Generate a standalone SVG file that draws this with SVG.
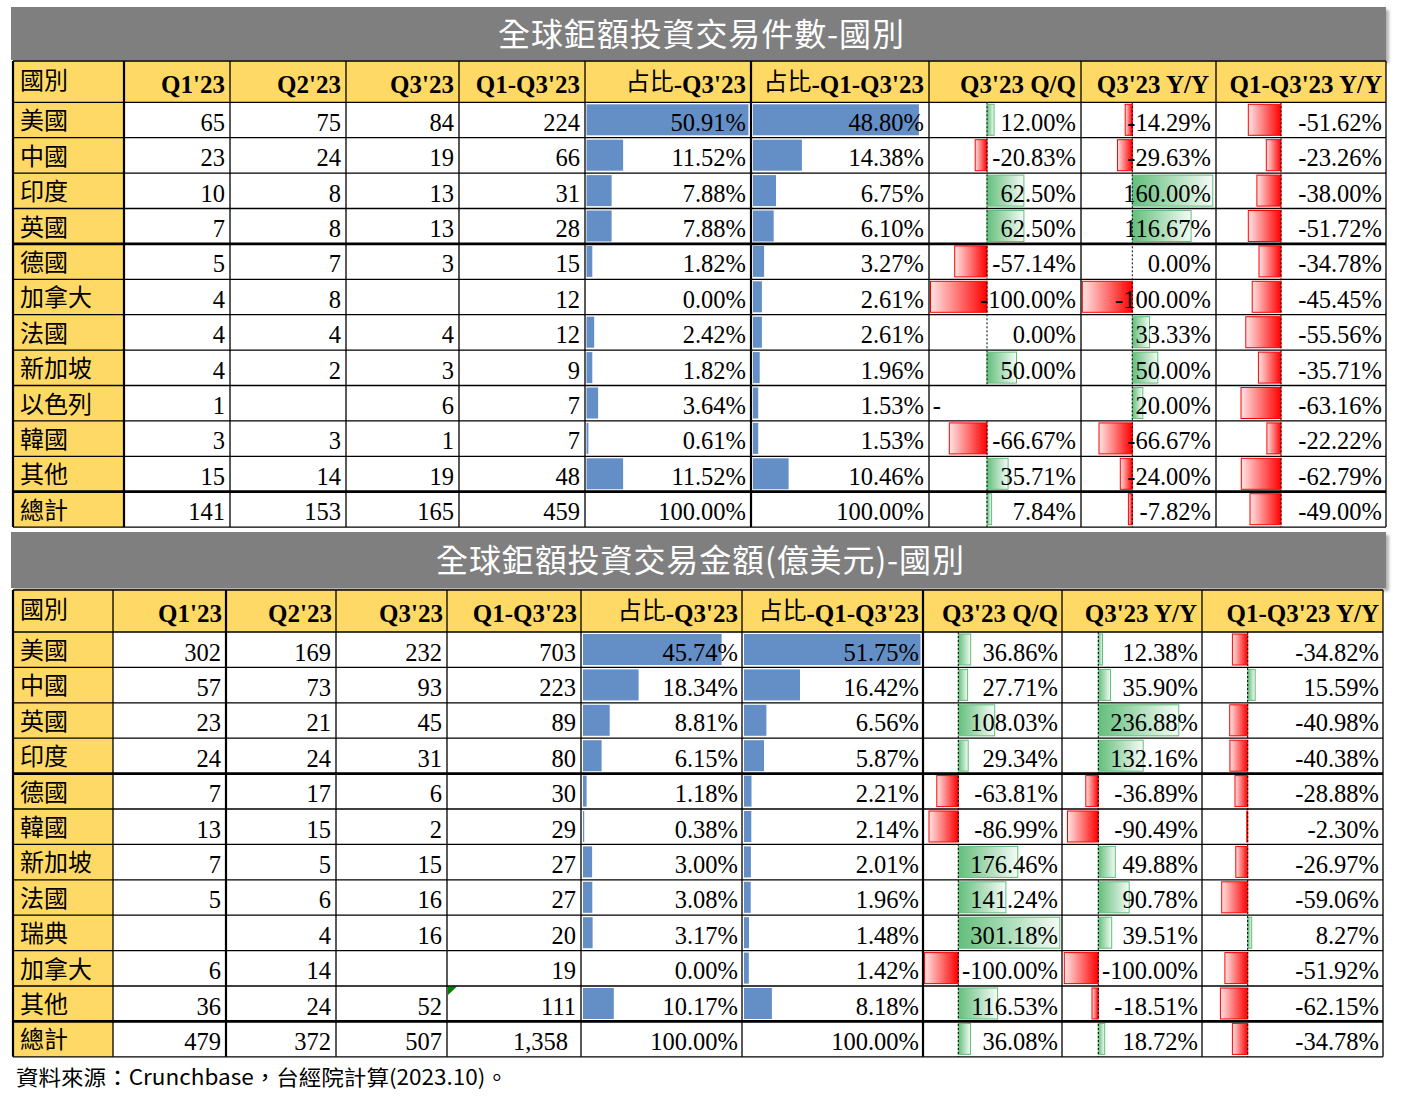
<svg xmlns="http://www.w3.org/2000/svg" width="1402" height="1104" viewBox="0 0 1402 1104">
<style>
.ttl{font-family:"Noto Sans CJK TC","Noto Sans CJK SC",sans-serif;font-size:32px;fill:#fff;text-anchor:middle}
.h{font-family:"Liberation Serif","Noto Sans CJK TC",serif;font-size:25px;font-weight:bold;text-anchor:end;fill:#000}
.h tspan.k{font-family:"Noto Sans CJK TC","Noto Sans CJK SC",sans-serif;font-weight:normal;font-size:24px}
.c{font-family:"Noto Sans CJK TC","Noto Sans CJK SC",sans-serif;font-size:24px;fill:#000}
.n{font-family:"Liberation Serif",serif;font-size:24.5px;text-anchor:end;fill:#000}
.b{fill:#638EC6}
.p{fill:url(#gG);stroke:#63BE7B;stroke-width:1}
.m{fill:url(#gR);stroke:#FF0000;stroke-width:1}
.ax{stroke:#000;stroke-width:1;stroke-dasharray:2 2;fill:none}
.g{stroke:#000;stroke-width:1.3;fill:none}
.gt{stroke:#000;stroke-width:2.8;fill:none}
.gold{fill:#FFD966}
.src{font-family:"Noto Sans CJK TC","Noto Sans CJK SC",sans-serif;font-size:21px;fill:#000}
</style>
<defs>
<linearGradient id="gG" x1="0" y1="0" x2="1" y2="0"><stop offset="0" stop-color="#63BE7B"/><stop offset="1" stop-color="#F4FBF6"/></linearGradient>
<linearGradient id="gR" x1="0" y1="0" x2="1" y2="0"><stop offset="0" stop-color="#FFE4E4"/><stop offset="1" stop-color="#FF0000"/></linearGradient>
<filter id="sh" x="-2%" y="-20%" width="104%" height="140%"><feDropShadow dx="3" dy="3" stdDeviation="1.5" flood-color="#000" flood-opacity="0.3"/></filter>
</defs>
<rect x="0" y="0" width="1402" height="1104" fill="#fff"/>

<!-- ===== TABLE 1 ===== -->
<g id="t1-title">
<rect x="11" y="7" width="1375" height="53" fill="#7F7F7F" filter="url(#sh)"/>
<text class="ttl" x="701" y="46" textLength="406" lengthAdjust="spacing">全球鉅額投資交易件數-國別</text>
</g>
<g id="t1-fills">
<rect class="gold" x="13" y="61" width="1373" height="41.3"/>
<rect class="gold" x="13" y="102.3" width="111" height="424.8"/>
</g>
<g id="t1-header">
<text class="c" x="20" y="89">國別</text>
<text class="h" x="225" y="93">Q1'23</text>
<text class="h" x="341" y="93">Q2'23</text>
<text class="h" x="454" y="93">Q3'23</text>
<text class="h" x="580" y="93">Q1-Q3'23</text>
<text class="h" x="746" y="93"><tspan class="k" dy="-3">占比</tspan><tspan dy="3">-Q3'23</tspan></text>
<text class="h" x="924" y="93"><tspan class="k" dy="-3">占比</tspan><tspan dy="3">-Q1-Q3'23</tspan></text>
<text class="h" x="1076" y="93">Q3'23 Q/Q</text>
<text class="h" x="1209" y="93">Q3'23 Y/Y</text>
<text class="h" x="1382" y="93">Q1-Q3'23 Y/Y</text>
</g>

<g id="t1-r0" transform="translate(0,102.3)">
<rect class="b" x="586.5" y="2" width="161.9" height="31"/><rect class="b" x="753" y="2" width="165.9" height="31"/>
<rect class="p" x="987" y="2" width="7.1" height="31"/><rect class="m" x="1125.2" y="2" width="7.1" height="31"/><rect class="m" x="1248.3" y="2" width="32.7" height="31"/>
<text class="c" x="20" y="27">美國</text>
<text class="n" x="225" y="28.5">65</text><text class="n" x="341" y="28.5">75</text><text class="n" x="454" y="28.5">84</text><text class="n" x="580" y="28.5">224</text>
<text class="n" x="746" y="28.5">50.91%</text><text class="n" x="924" y="28.5">48.80%</text><text class="n" x="1076" y="28.5">12.00%</text><text class="n" x="1211" y="28.5">-14.29%</text><text class="n" x="1382" y="28.5">-51.62%</text>
</g>
<g id="t1-r1" transform="translate(0,137.7)">
<rect class="b" x="586.5" y="2" width="36.6" height="31"/><rect class="b" x="753" y="2" width="48.9" height="31"/>
<rect class="m" x="975.2" y="2" width="11.8" height="31"/><rect class="m" x="1117.5" y="2" width="14.8" height="31"/><rect class="m" x="1266.3" y="2" width="14.7" height="31"/>
<text class="c" x="20" y="27">中國</text>
<text class="n" x="225" y="28.5">23</text><text class="n" x="341" y="28.5">24</text><text class="n" x="454" y="28.5">19</text><text class="n" x="580" y="28.5">66</text>
<text class="n" x="746" y="28.5">11.52%</text><text class="n" x="924" y="28.5">14.38%</text><text class="n" x="1076" y="28.5">-20.83%</text><text class="n" x="1211" y="28.5">-29.63%</text><text class="n" x="1382" y="28.5">-23.26%</text>
</g>
<g id="t1-r2" transform="translate(0,173.1)">
<rect class="b" x="586.5" y="2" width="25.1" height="31"/><rect class="b" x="753" y="2" width="23" height="31"/>
<rect class="p" x="987" y="2" width="36.9" height="31"/><rect class="p" x="1132.3" y="2" width="80.5" height="31"/><rect class="m" x="1256.9" y="2" width="24.1" height="31"/>
<text class="c" x="20" y="27">印度</text>
<text class="n" x="225" y="28.5">10</text><text class="n" x="341" y="28.5">8</text><text class="n" x="454" y="28.5">13</text><text class="n" x="580" y="28.5">31</text>
<text class="n" x="746" y="28.5">7.88%</text><text class="n" x="924" y="28.5">6.75%</text><text class="n" x="1076" y="28.5">62.50%</text><text class="n" x="1211" y="28.5">160.00%</text><text class="n" x="1382" y="28.5">-38.00%</text>
</g>
<g id="t1-r3" transform="translate(0,208.5)">
<rect class="b" x="586.5" y="2" width="25.1" height="31"/><rect class="b" x="753" y="2" width="20.7" height="31"/>
<rect class="p" x="987" y="2" width="36.9" height="31"/><rect class="p" x="1132.3" y="2" width="58.8" height="31"/><rect class="m" x="1248.3" y="2" width="32.7" height="31"/>
<text class="c" x="20" y="27">英國</text>
<text class="n" x="225" y="28.5">7</text><text class="n" x="341" y="28.5">8</text><text class="n" x="454" y="28.5">13</text><text class="n" x="580" y="28.5">28</text>
<text class="n" x="746" y="28.5">7.88%</text><text class="n" x="924" y="28.5">6.10%</text><text class="n" x="1076" y="28.5">62.50%</text><text class="n" x="1211" y="28.5">116.67%</text><text class="n" x="1382" y="28.5">-51.72%</text>
</g>
<g id="t1-r4" transform="translate(0,243.9)">
<rect class="b" x="586.5" y="2" width="5.8" height="31"/><rect class="b" x="753" y="2" width="11.1" height="31"/>
<rect class="m" x="954.7" y="2" width="32.3" height="31"/><rect class="m" x="1259" y="2" width="22" height="31"/>
<text class="c" x="20" y="27">德國</text>
<text class="n" x="225" y="28.5">5</text><text class="n" x="341" y="28.5">7</text><text class="n" x="454" y="28.5">3</text><text class="n" x="580" y="28.5">15</text>
<text class="n" x="746" y="28.5">1.82%</text><text class="n" x="924" y="28.5">3.27%</text><text class="n" x="1076" y="28.5">-57.14%</text><text class="n" x="1211" y="28.5">0.00%</text><text class="n" x="1382" y="28.5">-34.78%</text>
</g>
<g id="t1-r5" transform="translate(0,279.3)">
<rect class="b" x="753" y="2" width="8.9" height="31"/>
<rect class="m" x="930.5" y="2" width="56.5" height="31"/><rect class="m" x="1082.3" y="2" width="50" height="31"/><rect class="m" x="1252.2" y="2" width="28.8" height="31"/>
<text class="c" x="20" y="27">加拿大</text>
<text class="n" x="225" y="28.5">4</text><text class="n" x="341" y="28.5">8</text><text class="n" x="580" y="28.5">12</text>
<text class="n" x="746" y="28.5">0.00%</text><text class="n" x="924" y="28.5">2.61%</text><text class="n" x="1076" y="28.5">-100.00%</text><text class="n" x="1211" y="28.5">-100.00%</text><text class="n" x="1382" y="28.5">-45.45%</text>
</g>
<g id="t1-r6" transform="translate(0,314.7)">
<rect class="b" x="586.5" y="2" width="7.7" height="31"/><rect class="b" x="753" y="2" width="8.9" height="31"/>
<rect class="p" x="1132.3" y="2" width="17.2" height="31"/><rect class="m" x="1245.8" y="2" width="35.2" height="31"/>
<text class="c" x="20" y="27">法國</text>
<text class="n" x="225" y="28.5">4</text><text class="n" x="341" y="28.5">4</text><text class="n" x="454" y="28.5">4</text><text class="n" x="580" y="28.5">12</text>
<text class="n" x="746" y="28.5">2.42%</text><text class="n" x="924" y="28.5">2.61%</text><text class="n" x="1076" y="28.5">0.00%</text><text class="n" x="1211" y="28.5">33.33%</text><text class="n" x="1382" y="28.5">-55.56%</text>
</g>
<g id="t1-r7" transform="translate(0,350.1)">
<rect class="b" x="586.5" y="2" width="5.8" height="31"/><rect class="b" x="753" y="2" width="6.7" height="31"/>
<rect class="p" x="987" y="2" width="29.5" height="31"/><rect class="p" x="1132.3" y="2" width="25.5" height="31"/><rect class="m" x="1258.4" y="2" width="22.6" height="31"/>
<text class="c" x="20" y="27">新加坡</text>
<text class="n" x="225" y="28.5">4</text><text class="n" x="341" y="28.5">2</text><text class="n" x="454" y="28.5">3</text><text class="n" x="580" y="28.5">9</text>
<text class="n" x="746" y="28.5">1.82%</text><text class="n" x="924" y="28.5">1.96%</text><text class="n" x="1076" y="28.5">50.00%</text><text class="n" x="1211" y="28.5">50.00%</text><text class="n" x="1382" y="28.5">-35.71%</text>
</g>
<g id="t1-r8" transform="translate(0,385.5)">
<rect class="b" x="586.5" y="2" width="11.6" height="31"/><rect class="b" x="753" y="2" width="5.2" height="31"/>
<rect class="p" x="1132.3" y="2" width="10.5" height="31"/><rect class="m" x="1241" y="2" width="40" height="31"/>
<text class="c" x="20" y="27">以色列</text>
<text class="n" x="225" y="28.5">1</text><text class="n" x="454" y="28.5">6</text><text class="n" x="580" y="28.5">7</text>
<text class="n" x="746" y="28.5">3.64%</text><text class="n" x="924" y="28.5">1.53%</text><text class="n" x="941" y="28.5">-</text><text class="n" x="1211" y="28.5">20.00%</text><text class="n" x="1382" y="28.5">-63.16%</text>
</g>
<g id="t1-r9" transform="translate(0,420.9)">
<rect class="b" x="586.5" y="2" width="1.9" height="31"/><rect class="b" x="753" y="2" width="5.2" height="31"/>
<rect class="m" x="949.3" y="2" width="37.7" height="31"/><rect class="m" x="1099" y="2" width="33.3" height="31"/><rect class="m" x="1266.9" y="2" width="14.1" height="31"/>
<text class="c" x="20" y="27">韓國</text>
<text class="n" x="225" y="28.5">3</text><text class="n" x="341" y="28.5">3</text><text class="n" x="454" y="28.5">1</text><text class="n" x="580" y="28.5">7</text>
<text class="n" x="746" y="28.5">0.61%</text><text class="n" x="924" y="28.5">1.53%</text><text class="n" x="1076" y="28.5">-66.67%</text><text class="n" x="1211" y="28.5">-66.67%</text><text class="n" x="1382" y="28.5">-22.22%</text>
</g>
<g id="t1-r10" transform="translate(0,456.3)">
<rect class="b" x="586.5" y="2" width="36.6" height="31"/><rect class="b" x="753" y="2" width="35.6" height="31"/>
<rect class="p" x="987" y="2" width="21.1" height="31"/><rect class="m" x="1120.3" y="2" width="12" height="31"/><rect class="m" x="1241.3" y="2" width="39.7" height="31"/>
<text class="c" x="20" y="27">其他</text>
<text class="n" x="225" y="28.5">15</text><text class="n" x="341" y="28.5">14</text><text class="n" x="454" y="28.5">19</text><text class="n" x="580" y="28.5">48</text>
<text class="n" x="746" y="28.5">11.52%</text><text class="n" x="924" y="28.5">10.46%</text><text class="n" x="1076" y="28.5">35.71%</text><text class="n" x="1211" y="28.5">-24.00%</text><text class="n" x="1382" y="28.5">-62.79%</text>
</g>
<g id="t1-total" transform="translate(0,491.7)">
<rect class="p" x="987" y="2" width="4.6" height="31"/><rect class="m" x="1128.4" y="2" width="3.9" height="31"/><rect class="m" x="1250" y="2" width="31" height="31"/>
<text class="c" x="20" y="27">總計</text>
<text class="n" x="225" y="28.5">141</text><text class="n" x="341" y="28.5">153</text><text class="n" x="454" y="28.5">165</text><text class="n" x="580" y="28.5">459</text>
<text class="n" x="746" y="28.5">100.00%</text><text class="n" x="924" y="28.5">100.00%</text><text class="n" x="1076" y="28.5">7.84%</text><text class="n" x="1211" y="28.5">-7.82%</text><text class="n" x="1382" y="28.5">-49.00%</text>
</g>

<g id="t1-axes">
<path class="ax" d="M987 102.3V385.5M987 420.9V527.1M1132.3 102.3V527.1M1281 102.3V527.1"/>
</g>
<g id="t1-grid">
<path class="g" d="M13 61H1386M13 102.3H1386M13 137.7H1386M13 173.1H1386M13 208.5H1386M13 279.3H1386M13 314.7H1386M13 350.1H1386M13 385.5H1386M13 420.9H1386M13 456.3H1386M13 527.1H1386"/>
<path class="gt" d="M13 243.9H1386M13 491.7H1386"/>
<path class="g" d="M230 61V527.1M346 61V527.1M459 61V527.1M585 61V527.1M929 61V527.1M1081 61V527.1M1216 61V527.1M1386 61V527.1"/>
<path class="gt" d="M13 61V527.1M124 61V527.1M751 61V527.1" style="stroke-width:2.2"/>
</g>

<!-- ===== TABLE 2 ===== -->
<g id="t2-title">
<rect x="11" y="532" width="1375" height="56" fill="#7F7F7F" filter="url(#sh)"/>
<text class="ttl" x="700" y="572" textLength="528" lengthAdjust="spacing">全球鉅額投資交易金額(億美元)-國別</text>
</g>
<g id="t2-fills">
<rect class="gold" x="13" y="590" width="1370" height="42"/>
<rect class="gold" x="13" y="632" width="100" height="424.8"/>
</g>
<g id="t2-header">
<text class="c" x="20" y="618">國別</text>
<text class="h" x="222" y="622">Q1'23</text>
<text class="h" x="332" y="622">Q2'23</text>
<text class="h" x="443" y="622">Q3'23</text>
<text class="h" x="577" y="622">Q1-Q3'23</text>
<text class="h" x="738" y="622"><tspan class="k" dy="-3">占比</tspan><tspan dy="3">-Q3'23</tspan></text>
<text class="h" x="919" y="622"><tspan class="k" dy="-3">占比</tspan><tspan dy="3">-Q1-Q3'23</tspan></text>
<text class="h" x="1058" y="622">Q3'23 Q/Q</text>
<text class="h" x="1197" y="622">Q3'23 Y/Y</text>
<text class="h" x="1379" y="622">Q1-Q3'23 Y/Y</text>
</g>

<g id="t2-r0" transform="translate(0,632)">
<rect class="b" x="583" y="2" width="138.6" height="31"/><rect class="b" x="744" y="2" width="176.5" height="31"/>
<rect class="p" x="958.3" y="2" width="12.4" height="31"/><rect class="p" x="1098.3" y="2" width="4.2" height="31"/><rect class="m" x="1232.4" y="2" width="15.3" height="31"/>
<text class="c" x="20" y="27">美國</text>
<text class="n" x="221" y="28.5">302</text><text class="n" x="331" y="28.5">169</text><text class="n" x="442" y="28.5">232</text><text class="n" x="576" y="28.5">703</text>
<text class="n" x="738" y="28.5">45.74%</text><text class="n" x="919" y="28.5">51.75%</text><text class="n" x="1058" y="28.5">36.86%</text><text class="n" x="1198" y="28.5">12.38%</text><text class="n" x="1379" y="28.5">-34.82%</text>
</g>
<g id="t2-r1" transform="translate(0,667.4)">
<rect class="b" x="583" y="2" width="55.6" height="31"/><rect class="b" x="744" y="2" width="56" height="31"/>
<rect class="p" x="958.3" y="2" width="9.3" height="31"/><rect class="p" x="1098.3" y="2" width="12.2" height="31"/><rect class="p" x="1247.7" y="2" width="7.5" height="31"/>
<text class="c" x="20" y="27">中國</text>
<text class="n" x="221" y="28.5">57</text><text class="n" x="331" y="28.5">73</text><text class="n" x="442" y="28.5">93</text><text class="n" x="576" y="28.5">223</text>
<text class="n" x="738" y="28.5">18.34%</text><text class="n" x="919" y="28.5">16.42%</text><text class="n" x="1058" y="28.5">27.71%</text><text class="n" x="1198" y="28.5">35.90%</text><text class="n" x="1379" y="28.5">15.59%</text>
</g>
<g id="t2-r2" transform="translate(0,702.8)">
<rect class="b" x="583" y="2" width="26.7" height="31"/><rect class="b" x="744" y="2" width="22.4" height="31"/>
<rect class="p" x="958.3" y="2" width="36.4" height="31"/><rect class="p" x="1098.3" y="2" width="80.5" height="31"/><rect class="m" x="1229.7" y="2" width="18" height="31"/>
<text class="c" x="20" y="27">英國</text>
<text class="n" x="221" y="28.5">23</text><text class="n" x="331" y="28.5">21</text><text class="n" x="442" y="28.5">45</text><text class="n" x="576" y="28.5">89</text>
<text class="n" x="738" y="28.5">8.81%</text><text class="n" x="919" y="28.5">6.56%</text><text class="n" x="1058" y="28.5">108.03%</text><text class="n" x="1198" y="28.5">236.88%</text><text class="n" x="1379" y="28.5">-40.98%</text>
</g>
<g id="t2-r3" transform="translate(0,738.2)">
<rect class="b" x="583" y="2" width="18.6" height="31"/><rect class="b" x="744" y="2" width="20" height="31"/>
<rect class="p" x="958.3" y="2" width="9.9" height="31"/><rect class="p" x="1098.3" y="2" width="44.9" height="31"/><rect class="m" x="1229.9" y="2" width="17.8" height="31"/>
<text class="c" x="20" y="27">印度</text>
<text class="n" x="221" y="28.5">24</text><text class="n" x="331" y="28.5">24</text><text class="n" x="442" y="28.5">31</text><text class="n" x="576" y="28.5">80</text>
<text class="n" x="738" y="28.5">6.15%</text><text class="n" x="919" y="28.5">5.87%</text><text class="n" x="1058" y="28.5">29.34%</text><text class="n" x="1198" y="28.5">132.16%</text><text class="n" x="1379" y="28.5">-40.38%</text>
</g>
<g id="t2-r4" transform="translate(0,773.6)">
<rect class="b" x="583" y="2" width="3.6" height="31"/><rect class="b" x="744" y="2" width="7.5" height="31"/>
<rect class="m" x="936.8" y="2" width="21.5" height="31"/><rect class="m" x="1085.8" y="2" width="12.5" height="31"/><rect class="m" x="1235" y="2" width="12.7" height="31"/>
<text class="c" x="20" y="27">德國</text>
<text class="n" x="221" y="28.5">7</text><text class="n" x="331" y="28.5">17</text><text class="n" x="442" y="28.5">6</text><text class="n" x="576" y="28.5">30</text>
<text class="n" x="738" y="28.5">1.18%</text><text class="n" x="919" y="28.5">2.21%</text><text class="n" x="1058" y="28.5">-63.81%</text><text class="n" x="1198" y="28.5">-36.89%</text><text class="n" x="1379" y="28.5">-28.88%</text>
</g>
<g id="t2-r5" transform="translate(0,809)">
<rect class="b" x="583" y="2" width="1.2" height="31"/><rect class="b" x="744" y="2" width="7.3" height="31"/>
<rect class="m" x="929" y="2" width="29.3" height="31"/><rect class="m" x="1067.5" y="2" width="30.8" height="31"/><rect class="m" x="1246.7" y="2" width="1" height="31"/>
<text class="c" x="20" y="27">韓國</text>
<text class="n" x="221" y="28.5">13</text><text class="n" x="331" y="28.5">15</text><text class="n" x="442" y="28.5">2</text><text class="n" x="576" y="28.5">29</text>
<text class="n" x="738" y="28.5">0.38%</text><text class="n" x="919" y="28.5">2.14%</text><text class="n" x="1058" y="28.5">-86.99%</text><text class="n" x="1198" y="28.5">-90.49%</text><text class="n" x="1379" y="28.5">-2.30%</text>
</g>
<g id="t2-r6" transform="translate(0,844.4)">
<rect class="b" x="583" y="2" width="9.1" height="31"/><rect class="b" x="744" y="2" width="6.9" height="31"/>
<rect class="p" x="958.3" y="2" width="59.5" height="31"/><rect class="p" x="1098.3" y="2" width="17" height="31"/><rect class="m" x="1235.8" y="2" width="11.9" height="31"/>
<text class="c" x="20" y="27">新加坡</text>
<text class="n" x="221" y="28.5">7</text><text class="n" x="331" y="28.5">5</text><text class="n" x="442" y="28.5">15</text><text class="n" x="576" y="28.5">27</text>
<text class="n" x="738" y="28.5">3.00%</text><text class="n" x="919" y="28.5">2.01%</text><text class="n" x="1058" y="28.5">176.46%</text><text class="n" x="1198" y="28.5">49.88%</text><text class="n" x="1379" y="28.5">-26.97%</text>
</g>
<g id="t2-r7" transform="translate(0,879.8)">
<rect class="b" x="583" y="2" width="9.3" height="31"/><rect class="b" x="744" y="2" width="6.7" height="31"/>
<rect class="p" x="958.3" y="2" width="47.6" height="31"/><rect class="p" x="1098.3" y="2" width="30.9" height="31"/><rect class="m" x="1221.7" y="2" width="26" height="31"/>
<text class="c" x="20" y="27">法國</text>
<text class="n" x="221" y="28.5">5</text><text class="n" x="331" y="28.5">6</text><text class="n" x="442" y="28.5">16</text><text class="n" x="576" y="28.5">27</text>
<text class="n" x="738" y="28.5">3.08%</text><text class="n" x="919" y="28.5">1.96%</text><text class="n" x="1058" y="28.5">141.24%</text><text class="n" x="1198" y="28.5">90.78%</text><text class="n" x="1379" y="28.5">-59.06%</text>
</g>
<g id="t2-r8" transform="translate(0,915.2)">
<rect class="b" x="583" y="2" width="9.6" height="31"/><rect class="b" x="744" y="2" width="5" height="31"/>
<rect class="p" x="958.3" y="2" width="101.5" height="31"/><rect class="p" x="1098.3" y="2" width="13.4" height="31"/><rect class="p" x="1247.7" y="2" width="4" height="31"/>
<text class="c" x="20" y="27">瑞典</text>
<text class="n" x="331" y="28.5">4</text><text class="n" x="442" y="28.5">16</text><text class="n" x="576" y="28.5">20</text>
<text class="n" x="738" y="28.5">3.17%</text><text class="n" x="919" y="28.5">1.48%</text><text class="n" x="1058" y="28.5">301.18%</text><text class="n" x="1198" y="28.5">39.51%</text><text class="n" x="1379" y="28.5">8.27%</text>
</g>
<g id="t2-r9" transform="translate(0,950.6)">
<rect class="b" x="744" y="2" width="4.8" height="31"/>
<rect class="m" x="924.6" y="2" width="33.7" height="31"/><rect class="m" x="1064.3" y="2" width="34" height="31"/><rect class="m" x="1224.9" y="2" width="22.8" height="31"/>
<text class="c" x="20" y="27">加拿大</text>
<text class="n" x="221" y="28.5">6</text><text class="n" x="331" y="28.5">14</text><text class="n" x="576" y="28.5">19</text>
<text class="n" x="738" y="28.5">0.00%</text><text class="n" x="919" y="28.5">1.42%</text><text class="n" x="1058" y="28.5">-100.00%</text><text class="n" x="1198" y="28.5">-100.00%</text><text class="n" x="1379" y="28.5">-51.92%</text>
</g>
<g id="t2-r10" transform="translate(0,986)">
<rect class="b" x="583" y="2" width="30.8" height="31"/><rect class="b" x="744" y="2" width="27.9" height="31"/>
<rect class="p" x="958.3" y="2" width="39.3" height="31"/><rect class="m" x="1092" y="2" width="6.3" height="31"/><rect class="m" x="1220.4" y="2" width="27.3" height="31"/>
<polygon points="448,0.5 457,0.5 448,9" fill="#008000"/>
<text class="c" x="20" y="27">其他</text>
<text class="n" x="221" y="28.5">36</text><text class="n" x="331" y="28.5">24</text><text class="n" x="442" y="28.5">52</text><text class="n" x="576" y="28.5">111</text>
<text class="n" x="738" y="28.5">10.17%</text><text class="n" x="919" y="28.5">8.18%</text><text class="n" x="1058" y="28.5">116.53%</text><text class="n" x="1198" y="28.5">-18.51%</text><text class="n" x="1379" y="28.5">-62.15%</text>
</g>
<g id="t2-total" transform="translate(0,1021.4)">
<rect class="p" x="958.3" y="2" width="12.2" height="31"/><rect class="p" x="1098.3" y="2" width="6.4" height="31"/><rect class="m" x="1232.4" y="2" width="15.3" height="31"/>
<text class="c" x="20" y="27">總計</text>
<text class="n" x="221" y="28.5">479</text><text class="n" x="331" y="28.5">372</text><text class="n" x="442" y="28.5">507</text><text class="n" x="568" y="28.5">1,358</text>
<text class="n" x="738" y="28.5">100.00%</text><text class="n" x="919" y="28.5">100.00%</text><text class="n" x="1058" y="28.5">36.08%</text><text class="n" x="1198" y="28.5">18.72%</text><text class="n" x="1379" y="28.5">-34.78%</text>
</g>

<g id="t2-axes">
<path class="ax" d="M958.3 632V1056.8M1098.3 632V1056.8M1247.7 632V1056.8"/>
</g>
<g id="t2-grid">
<path class="g" d="M13 590H1383M13 632H1383M13 667.4H1383M13 702.8H1383M13 738.2H1383M13 809H1383M13 844.4H1383M13 879.8H1383M13 915.2H1383M13 950.6H1383M13 986H1383M13 1056.8H1383"/>
<path class="gt" d="M13 773.6H1383M13 1021.4H1383"/>
<path class="g" d="M113 590V1056.8M336 590V1056.8M447 590V1056.8M581 590V1056.8M742 590V1056.8M1062 590V1056.8M1202 590V1056.8M1383 590V1056.8"/>
<path class="gt" d="M13 590V1056.8M226 590V1056.8M923 590V1056.8" style="stroke-width:2.2"/>
</g>

<g id="source">
<text class="src" x="16" y="1085" textLength="492" lengthAdjust="spacingAndGlyphs">資料來源：Crunchbase，台經院計算(2023.10)。</text>
</g>
</svg>
